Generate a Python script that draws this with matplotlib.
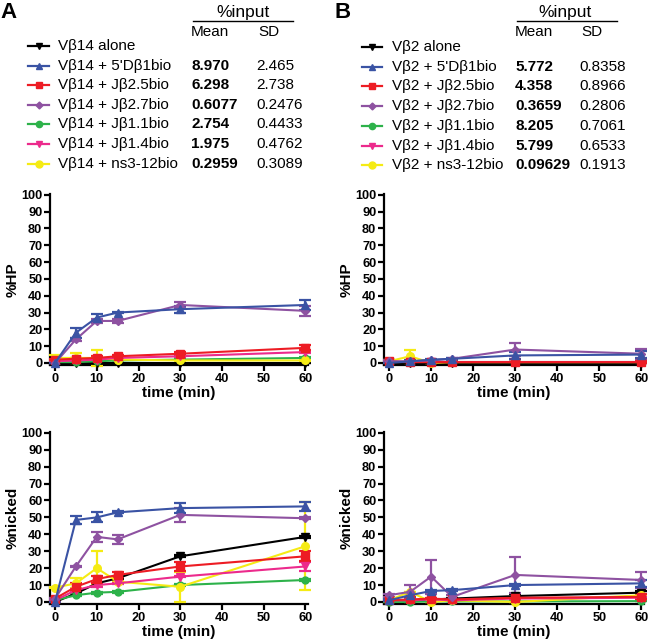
import matplotlib
matplotlib.use("Agg")
import matplotlib.pyplot as plt
from matplotlib.lines import Line2D
import numpy as np

plt.rcParams['font.family'] = ['Liberation Sans', 'DejaVu Sans']

time = [0, 5, 10, 15, 30, 60]

series_names = ["alone", "5'Dβ1bio", "Jβ2.5bio", "Jβ2.7bio", "Jβ1.1bio", "Jβ1.4bio", "ns3-12bio"]
colors = ["#000000", "#3a53a4", "#ed1c24", "#8e52a1", "#2db24a", "#ec2a8c", "#f5eb14"]
markers = ["v", "^", "s", "D", "o", "v", "o"]
msizes = [5.5, 5.5, 5.5, 4, 5, 5.5, 5.5]

# Panel A mean/SD table
meanA = ["", "8.970", "6.298", "0.6077", "2.754", "1.975", "0.2959"]
sdA = ["", "2.465", "2.738", "0.2476", "0.4433", "0.4762", "0.3089"]
meanB = ["", "5.772", "4.358", "0.3659", "8.205", "5.799", "0.09629"]
sdB = ["", "0.8358", "0.8966", "0.2806", "0.7061", "0.6533", "0.1913"]

# Panel A, %HP
hpA = [
    [0, 0, 0, 0, 0, 0],
    [0, 18, 27, 30, 32, 34.5],
    [2, 2.5, 3, 4, 5.5, 9],
    [0, 14, 25, 25, 34.5, 31],
    [0.5, 0.5, 1, 1.5, 2, 3],
    [1, 1.5, 2, 3, 4, 6.5],
    [3, 3, 3, 2, 1.5, 1.5],
]
hpA_err = [
    [0, 0, 0, 0, 0, 0],
    [0, 3, 2, 0.5, 2, 3],
    [0.5, 0.5, 1, 1, 1, 1.5],
    [0, 1, 1, 1, 2, 3],
    [0, 0, 0, 0, 0.5, 0.5],
    [0, 0, 0.5, 0.5, 0.5, 0.5],
    [2, 3, 5, 0.5, 0.5, 0.5],
]
# Panel A, %nicked
nkA = [
    [0, 5, 11, 14, 27, 38.5],
    [0, 48.5, 50, 53, 55.5, 56.5],
    [2, 9, 13.5, 16, 21, 27],
    [2, 21, 38.5, 37, 51.5, 49.5],
    [1, 4, 5.5, 6, 10, 13],
    [1, 7, 10, 11, 15, 21],
    [8.5, 11, 20, 12, 9, 33],
]
nkA_err = [
    [0, 0.5, 0.5, 0.5, 0.5, 0.5],
    [0, 2.5, 3, 0.5, 3, 2.5],
    [0.5, 2, 2, 1.5, 2.5, 3],
    [0.5, 0.5, 3, 2.5, 4, 0.5],
    [0, 0.5, 0.5, 0.5, 0.5, 0.5],
    [0.5, 0.5, 1, 0.5, 0.5, 2.5],
    [0.5, 3, 10, 0.5, 9, 26],
]
# Panel B, %HP
hpB = [
    [0, 0, 0, 0, 0, 0],
    [0, 1, 2, 2.5, 4.5, 5],
    [1, 0.5, 0.5, 0.5, 0.5, 0.5],
    [1, 1, 1.5, 2.5, 8, 5.5],
    [0.5, 0.5, 0.5, 0.5, 0.5, 0.5],
    [0.5, 0.5, 0.5, 0.5, 0.5, 0.5],
    [1, 4, 0, 0.5, 0.5, 0.5],
]
hpB_err = [
    [0, 0, 0, 0, 0, 0],
    [0, 0.5, 0.5, 0.5, 2, 2],
    [0.5, 0, 0, 0, 0, 0.5],
    [0.5, 0.5, 0.5, 0.5, 4, 3],
    [0, 0, 0, 0, 0, 0],
    [0, 0, 0, 0, 0, 0],
    [0.5, 4, 0, 0, 0, 0],
]
# Panel B, %nicked
nkB = [
    [0.5, 1, 1.5, 2, 3.5, 5.5],
    [1, 4, 6.5, 7, 10, 11],
    [1, 1.5, 2, 1.5, 2.5, 3],
    [4, 6, 15, 3, 16, 13],
    [0, 0, 0.3, 0.3, 0.3, 0.5],
    [1, 1, 1.5, 1, 2, 2.5],
    [1, 6, 0, 1, 0, 4],
]
nkB_err = [
    [0, 0.5, 0.5, 0.5, 1, 1],
    [0.5, 1, 0.5, 0.5, 0.5, 2],
    [0.5, 0.5, 0.5, 0.5, 0.5, 1.5],
    [1, 4, 10, 1, 10.5, 5],
    [0, 0, 0, 0, 0, 0],
    [0, 0, 0, 0, 0, 0.5],
    [0, 0, 0, 0, 0, 0],
]

W, H = 650, 643
fig = plt.figure(figsize=(W / 100, H / 100), dpi=100)


def fx(px):
    return px / W


def fy(py):
    return 1 - py / H


def make_ax(x0, x1, ytop, ybot):
    return fig.add_axes([fx(x0), fy(ybot), fx(x1) - fx(x0), fy(ytop) - fy(ybot)])


def style(ax, ylabel):
    ax.set_xlim(-1.2, 60.6)
    ax.set_ylim(-1.2, 100.5)
    ax.spines['top'].set_visible(False)
    ax.spines['right'].set_visible(False)
    for s in ['left', 'bottom']:
        ax.spines[s].set_linewidth(1.6)
    ax.set_xticks([0, 10, 20, 30, 40, 50, 60])
    ax.set_yticks(np.arange(0, 101, 10))
    ax.tick_params(width=1.6, length=4, labelsize=9.2, pad=1.5)
    for lab in ax.get_xticklabels() + ax.get_yticklabels():
        lab.set_fontweight('bold')
    ax.set_xlabel('time (min)', fontsize=11, fontweight='bold', labelpad=1)
    ax.set_ylabel(ylabel, fontsize=11, fontweight='bold', labelpad=1)


def plot_panel(ax, data, errs):
    order = [0, 4, 6, 5, 2, 3, 1]
    for i in order:
        ax.errorbar(time, data[i], yerr=errs[i], color=colors[i], marker=markers[i],
                    markersize=msizes[i], linewidth=1.5, elinewidth=1.6, capsize=4,
                    capthick=1.6, clip_on=False, zorder=3)


axA1 = make_ax(50, 308, 194, 365)
axA2 = make_ax(50, 308, 432, 604)
axB1 = make_ax(384, 644, 194, 365)
axB2 = make_ax(384, 644, 432, 604)

plot_panel(axA1, hpA, hpA_err)
plot_panel(axA2, nkA, nkA_err)
plot_panel(axB1, hpB, hpB_err)
plot_panel(axB2, nkB, nkB_err)
for ax, lab in [(axA1, '%HP'), (axA2, '%nicked'), (axB1, '%HP'), (axB2, '%nicked')]:
    style(ax, lab)
fig.align_ylabels([axA1, axA2])
fig.align_ylabels([axB1, axB2])

FS = 11


def legend_block(prefix, x_line0, x_line1, x_text, x_mean, x_sd, row_y, means, sds, pct_center, pct_line):
    for i in range(7):
        y = row_y[i]
        fig.add_artist(Line2D([fx(x_line0), fx(x_line1)], [fy(y), fy(y)], color=colors[i],
                              linewidth=1.6, transform=fig.transFigure))
        fig.add_artist(Line2D([fx((x_line0 + x_line1) / 2)], [fy(y)], color=colors[i],
                              marker=markers[i], markersize=msizes[i] - 0.5, linestyle='none',
                              transform=fig.transFigure))
        label = prefix + (" " if i == 0 else " + ") + series_names[i]
        fig.text(fx(x_text), fy(y), label, fontsize=FS, va='center', ha='left')
        if means[i]:
            fig.text(fx(x_mean), fy(y), means[i], fontsize=FS, fontweight='bold', va='center', ha='left')
            fig.text(fx(x_sd), fy(y), sds[i], fontsize=FS, va='center', ha='left')
    fig.text(fx(pct_center), fy(12), '%input', fontsize=12.5, va='center', ha='center')
    fig.add_artist(Line2D([fx(pct_line[0]), fx(pct_line[1])], [fy(21), fy(21)], color='black',
                          linewidth=1.0, transform=fig.transFigure))
    fig.text(fx(x_mean), fy(32), 'Mean', fontsize=FS, va='center', ha='left')
    fig.text(fx(x_sd + 2), fy(32), 'SD', fontsize=FS, va='center', ha='left')


rowsA = [46, 66, 85, 105, 124, 144, 164]
rowsB = [47, 67, 86, 106, 126, 146, 165]
legend_block('Vβ14', 28, 49, 58, 191, 256, rowsA, meanA, sdA, 243, (193, 293))
legend_block('Vβ2', 362, 382, 392, 515, 579, rowsB, meanB, sdB, 565, (517, 617))

fig.text(fx(0), fy(13), 'A', fontsize=16, fontweight='bold', va='center', ha='left')
fig.text(fx(335), fy(13), 'B', fontsize=16, fontweight='bold', va='center', ha='left')

fig.savefig('out.png', dpi=100)
